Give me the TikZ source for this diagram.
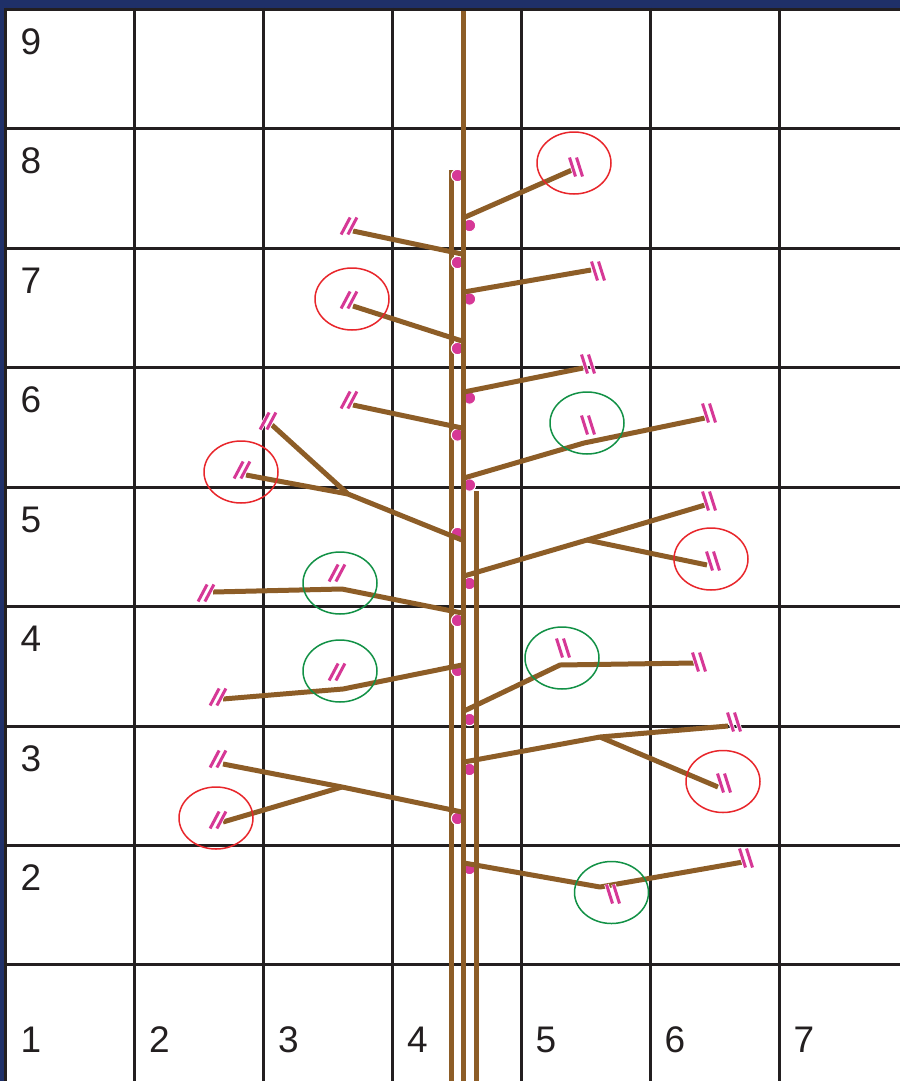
\documentclass[tikz,border=0pt]{standalone}
\usepackage{fontspec}
\setmainfont{Liberation Sans}
\definecolor{navy}{RGB}{31,48,104}
\definecolor{gridc}{RGB}{35,31,32}
\definecolor{brown}{RGB}{141,93,39}
\definecolor{pinkc}{RGB}{214,56,150}
\definecolor{redc}{RGB}{232,38,43}
\definecolor{greenc}{RGB}{18,145,70}
\tikzset{
  gridline/.style={draw=gridc, line width=3},
  stemline/.style={draw=brown, line width=5},
  branchline/.style={draw=brown, line width=5, line join=round},
  budot/.style={fill=pinkc, draw=white, line width=1},
  cutw/.style={draw=white, line width=4.6},
  cutp/.style={draw=pinkc, line width=3},
  redring/.style={draw=redc, line width=1.5},
  greenring/.style={draw=greenc, line width=1.5},
  lab/.style={inner sep=0pt, font=\fontsize{37}{37}\selectfont, text=gridc},
  cutL/.pic={
    \foreach \dx in {-3.4,3.4}{\draw[cutw] ({\dx-4.5},8.5) -- ({\dx+4.5},-8.5);}
    \foreach \dx in {-3.4,3.4}{\draw[cutp] ({\dx-4.5},8.5) -- ({\dx+4.5},-8.5);}
  },
  cutR/.pic={
    \foreach \dx in {-3.5,3.5}{\draw[cutw] ({\dx-3},-9.5) -- ({\dx+3},9.5);}
    \foreach \dx in {-3.5,3.5}{\draw[cutp] ({\dx-3},-9.5) -- ({\dx+3},9.5);}
  }
}
\begin{document}
\begin{tikzpicture}[x=1pt, y=-1pt]
\useasboundingbox (0,0) rectangle (900,1081);
% background
\fill[navy] (0,0) rectangle (900,1081);
\fill[white] (5.5,9.5) rectangle (900,1081);
% grid
\foreach \y in {9.5,128.5,248,367.5,487,606.5,726,845.5,964.5}{\draw[gridline] (4,\y) -- (900,\y);}
\foreach \x in {5.5,134.5,263.5,392.5,521,650,779}{\draw[gridline] (\x,8) -- (\x,1081);}
% labels
\node[lab] (r9) at (31,41.7) {9};
\node[lab] (r8) at (31,161) {8};
\node[lab] (r7) at (31,280.5) {7};
\node[lab] (r6) at (31,400) {6};
\node[lab] (r5) at (31,519.5) {5};
\node[lab] (r4) at (31,639) {4};
\node[lab] (r3) at (31,758.5) {3};
\node[lab] (r2) at (31,878) {2};
\node[lab] (c1) at (31,1040) {1};
\node[lab] (c2) at (159.5,1040) {2};
\node[lab] (c3) at (288.5,1040) {3};
\node[lab] (c4) at (417.5,1040) {4};
\node[lab] (c5) at (546,1040) {5};
\node[lab] (c6) at (675,1040) {6};
\node[lab] (c7) at (804,1040) {7};
% stems
\coordinate (sLt) at (451,170); \coordinate (sLb) at (451,1081);
\coordinate (sMt) at (463,11); \coordinate (sMb) at (463,1081);
\coordinate (sRt) at (476,491); \coordinate (sRb) at (476,1081);
\draw[stemline] (sLt) -- (sLb);
% dots
\foreach \y in {175.5,262.5,348.5,435,533.5,620.5,670.5,818.5}{\filldraw[budot] (457.5,\y) circle (6.2);}
\foreach \y in {225.5,299,398,485,583.5,719.5,769.5,868.5}{\filldraw[budot] (469.5,\y) circle (6.2);}
\draw[stemline] (sMt) -- (sMb);
\draw[stemline] (sRt) -- (sRb);
% branches
\coordinate (b1s) at (463,218); \coordinate (b1e) at (572,170);
\coordinate (b2s) at (462,254); \coordinate (b2e) at (353,231);
\coordinate (b3s) at (464,292); \coordinate (b3e) at (591,270);
\coordinate (b4s) at (462,341); \coordinate (b4e) at (353,306);
\coordinate (b5s) at (464,392); \coordinate (b5e) at (583,368);
\coordinate (b6s) at (462,428); \coordinate (b6e) at (353,405);
\coordinate (b7s) at (464,478); \coordinate (b7j) at (584,443); \coordinate (b7e) at (705,418);
\coordinate (b8s) at (462,540); \coordinate (b8j) at (348,494); \coordinate (b8a) at (272,425); \coordinate (b8b) at (246,475);
\coordinate (b9s) at (464,576); \coordinate (b9j) at (587,540); \coordinate (b9a) at (705,505); \coordinate (b9b) at (707,565);
\coordinate (b10s) at (462,613); \coordinate (b10j) at (342,589); \coordinate (b10e) at (213,592);
\coordinate (b11s) at (464,711); \coordinate (b11j) at (560,665); \coordinate (b11e) at (695,663);
\coordinate (b12s) at (462,665); \coordinate (b12j) at (343,689); \coordinate (b12e) at (223,699);
\coordinate (b13s) at (462,812); \coordinate (b13j) at (342,787); \coordinate (b13a) at (223,764); \coordinate (b13b) at (223,822);
\coordinate (b14s) at (464,762); \coordinate (b14j) at (600,737); \coordinate (b14a) at (728,726); \coordinate (b14b) at (718,787);
\coordinate (b15s) at (464,863); \coordinate (b15j) at (600,887); \coordinate (b15e) at (743,862);
\draw[branchline] (b1s) -- (b1e);
\draw[branchline] (b2s) -- (b2e);
\draw[branchline] (b3s) -- (b3e);
\draw[branchline] (b4s) -- (b4e);
\draw[branchline] (b5s) -- (b5e);
\draw[branchline] (b6s) -- (b6e);
\draw[branchline] (b7s) -- (b7j) -- (b7e);
\draw[branchline] (b8s) -- (b8j) -- (b8a);
\draw[branchline] (b8j) -- (b8b);
\draw[branchline] (b9s) -- (b9j) -- (b9a);
\draw[branchline] (b9j) -- (b9b);
\draw[branchline] (b10s) -- (b10j) -- (b10e);
\draw[branchline] (b11s) -- (b11j) -- (b11e);
\draw[branchline] (b12s) -- (b12j) -- (b12e);
\draw[branchline] (b13s) -- (b13j) -- (b13a);
\draw[branchline] (b13j) -- (b13b);
\draw[branchline] (b14s) -- (b14j) -- (b14a);
\draw[branchline] (b14j) -- (b14b);
\draw[branchline] (b15s) -- (b15j) -- (b15e);
% cut marks right
\foreach \p in {(576,167),(598,271),(588,364),(588,425),(709,413),(709,501),(713,561),(563,648),(699,662),(734,722),(724,783),(613,894),(746,858)}{\pic at \p {cutR};}
% cut marks left
\foreach \p in {(349,226),(349,300),(349,400),(268,421),(242,470),(206,593),(337,573),(218,697),(337,672),(218,759),(218,820)}{\pic at \p {cutL};}
% rings
\draw[redring] (574,163) ellipse [x radius=37, y radius=31];
\draw[redring] (352,299) ellipse [x radius=37, y radius=31];
\draw[redring] (241,472) ellipse [x radius=37, y radius=31];
\draw[redring] (711,559) ellipse [x radius=37, y radius=31];
\draw[redring] (216,818) ellipse [x radius=37, y radius=31];
\draw[redring] (723,781.5) ellipse [x radius=37, y radius=31];
\draw[greenring] (587,423) ellipse [x radius=37, y radius=31];
\draw[greenring] (340,583) ellipse [x radius=37, y radius=31];
\draw[greenring] (562,658) ellipse [x radius=37, y radius=31];
\draw[greenring] (340,671) ellipse [x radius=37, y radius=31];
\draw[greenring] (611.5,892.5) ellipse [x radius=37, y radius=31];
\end{tikzpicture}
\end{document}
